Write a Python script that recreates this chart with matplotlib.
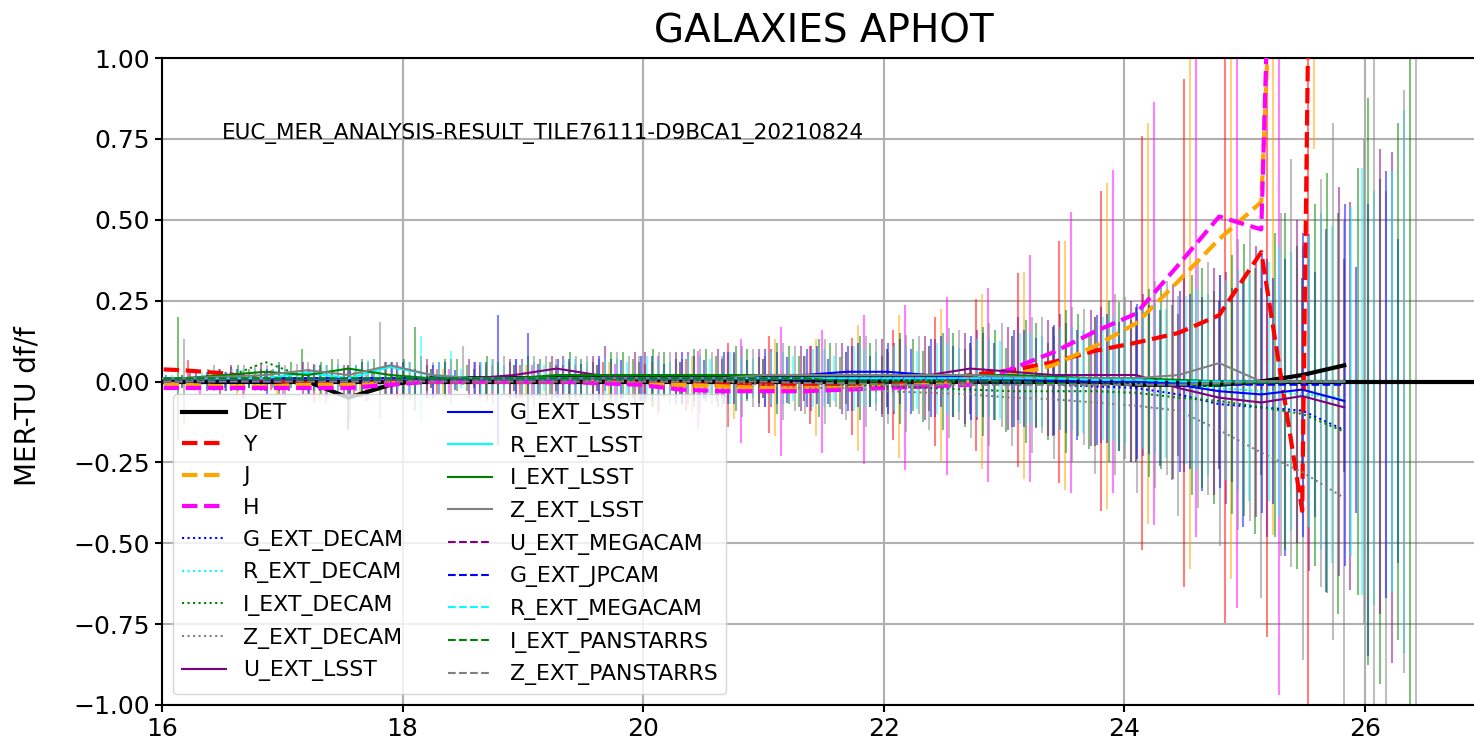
import numpy as np
import matplotlib
matplotlib.use("Agg")
import matplotlib.pyplot as plt

nan = np.nan

# magnitude bins (bin centres)
mag = [15.83, 16.17, 16.52, 16.86, 17.21, 17.55, 17.90, 18.24, 18.59, 18.93,
       19.28, 19.62, 19.97, 20.31, 20.66, 21.00, 21.34, 21.69, 22.03, 22.38,
       22.72, 23.07, 23.41, 23.76, 24.10, 24.45, 24.79, 25.14, 25.48, 25.83]

# median df/f and error per band
det_med = [0.00, 0.00, 0.00, 0.00, 0.00, -0.05, -0.01, 0.01, 0.01, 0.01,
           0.01, 0.01, 0.01, 0.01, 0.01, 0.01, 0.01, 0.01, 0.01, 0.01,
           0.01, 0.00, 0.00, 0.00, -0.01, -0.01, -0.01, 0.00, 0.02, 0.05]
det_err = [0.02, 0.02, 0.02, 0.03, 0.03, 0.10, 0.03, 0.03, 0.03, 0.04,
           0.04, 0.04, 0.05, 0.05, 0.06, 0.06, 0.07, 0.08, 0.09, 0.10,
           0.11, 0.14, 0.17, 0.20, 0.24, 0.22, 0.26, 0.29, 0.30, 0.33]

y_med = [0.04, 0.035, 0.025, 0.005, -0.005, -0.01, 0.00, 0.00, 0.00, 0.00,
         0.00, 0.00, -0.005, -0.01, -0.01, -0.01, -0.01, -0.015, -0.01, 0.00,
         0.02, 0.035, 0.06, 0.095, 0.12, 0.15, 0.205, 0.40, -0.40, 10.0]
y_err = [0.03, 0.03, 0.02, 0.03, 0.06, 0.04, 0.05, 0.04, 0.05, 0.05,
         0.05, 0.06, 0.06, 0.08, 0.13, 0.15, 0.12, 0.15, 0.17, 0.20,
         0.235, 0.30, 0.375, 0.495, 0.64, 0.785, 0.95, 1.19, 1.60, 5.0]

j_med = [0.00, -0.01, -0.015, -0.015, -0.01, -0.01, -0.005, 0.00, 0.00, 0.00,
         0.00, 0.00, -0.01, -0.01, -0.015, -0.02, -0.02, -0.02, -0.015, -0.01,
         0.00, 0.02, 0.05, 0.11, 0.18, 0.31, 0.44, 0.555, 3.6, nan]
j_err = [0.03, 0.02, 0.03, 0.03, 0.05, 0.04, 0.04, 0.04, 0.05, 0.05,
         0.06, 0.06, 0.07, 0.09, 0.10, 0.15, 0.15, 0.195, 0.22, 0.235,
         0.27, 0.32, 0.385, 0.505, 0.62, 0.89, 1.05, 1.03, 2.88, nan]

h_med = [-0.02, -0.02, -0.02, -0.02, -0.02, -0.02, -0.01, 0.00, 0.00, 0.00,
         0.00, -0.005, -0.01, -0.025, -0.03, -0.03, -0.03, -0.025, -0.02, -0.015,
         -0.01, 0.04, 0.09, 0.155, 0.21, 0.36, 0.51, 0.47, 4.9, nan]
h_err = [0.03, 0.02, 0.03, 0.02, 0.045, 0.04, 0.03, 0.04, 0.05, 0.05,
         0.05, 0.06, 0.09, 0.12, 0.16, 0.20, 0.19, 0.23, 0.255, 0.275,
         0.30, 0.35, 0.435, 0.50, 0.655, 0.84, 1.21, 1.44, 3.5, nan]

g_decam_med = [0.00, 0.00, 0.00, 0.00, 0.00, 0.00, 0.00, 0.005, 0.005, 0.005,
               0.005, 0.005, 0.005, 0.005, 0.005, 0.005, 0.00, 0.00, 0.00, 0.00,
               0.00, -0.005, -0.01, -0.015, -0.02, -0.04, -0.07, -0.08, -0.09, -0.15]
g_decam_err = [0.02, 0.03, 0.02, 0.03, 0.03, 0.03, 0.04, 0.03, 0.20, 0.05,
               0.05, 0.06, 0.05, 0.06, 0.06, 0.07, 0.07, 0.08, 0.10, 0.11,
               0.12, 0.14, 0.17, 0.20, 0.24, 0.30, 0.38, 0.46, 0.56, 0.70]

r_decam_med = [0.00, 0.00, 0.01, 0.01, 0.01, 0.00, 0.01, 0.01, 0.01, 0.01,
               0.01, 0.01, 0.01, 0.01, 0.01, 0.01, 0.01, 0.01, 0.005, 0.005,
               0.005, 0.00, 0.00, 0.00, -0.005, -0.01, -0.02, -0.03, -0.04, -0.05]
r_decam_err = [0.02, 0.02, 0.03, 0.02, 0.04, 0.03, 0.13, 0.03, 0.04, 0.04,
               0.05, 0.05, 0.05, 0.06, 0.06, 0.07, 0.07, 0.08, 0.09, 0.10,
               0.12, 0.14, 0.16, 0.19, 0.23, 0.28, 0.35, 0.43, 0.52, 0.64]

i_decam_med = [0.01, 0.01, 0.01, 0.06, 0.01, 0.01, 0.01, 0.01, 0.01, 0.01,
               0.01, 0.01, 0.01, 0.01, 0.005, 0.00, -0.005, -0.01, -0.015, -0.02,
               -0.025, -0.03, -0.03, -0.03, -0.035, -0.05, -0.06, -0.08, -0.10, -0.155]
i_decam_err = [0.19, 0.03, 0.03, 0.04, 0.03, 0.05, 0.04, 0.04, 0.05, 0.05,
               0.05, 0.06, 0.06, 0.07, 0.07, 0.08, 0.08, 0.09, 0.11, 0.12,
               0.13, 0.15, 0.18, 0.22, 0.27, 0.33, 0.41, 0.50, 0.62, 0.78]

z_decam_med = [0.00, 0.00, 0.01, 0.01, 0.01, 0.01, 0.01, 0.01, 0.01, 0.01,
               0.01, 0.01, 0.00, 0.00, 0.00, -0.01, -0.02, -0.02, -0.03, -0.035,
               -0.04, -0.05, -0.055, -0.065, -0.075, -0.09, -0.15, -0.22, -0.28, -0.36]
z_decam_err = [0.13, 0.03, 0.04, 0.05, 0.13, 0.05, 0.05, 0.05, 0.06, 0.06,
               0.06, 0.07, 0.07, 0.08, 0.08, 0.09, 0.10, 0.11, 0.12, 0.14,
               0.16, 0.19, 0.23, 0.28, 0.34, 0.42, 0.52, 0.64, 0.78, 0.95]

u_lsst_med = [0.01, 0.01, 0.01, 0.01, 0.01, 0.01, 0.01, 0.01, 0.01, 0.02,
              0.04, 0.02, 0.01, 0.01, 0.01, 0.01, 0.01, 0.01, 0.01, 0.02,
              0.04, 0.03, 0.02, 0.02, 0.02, -0.02, -0.05, -0.065, -0.045, -0.08]
u_lsst_err = [0.03, 0.04, 0.03, 0.04, 0.04, 0.05, 0.05, 0.05, 0.06, 0.06,
              0.07, 0.07, 0.08, 0.08, 0.09, 0.10, 0.10, 0.11, 0.12, 0.14,
              0.16, 0.18, 0.21, 0.25, 0.30, 0.36, 0.43, 0.52, 0.60, 0.79]

g_lsst_med = [0.01, 0.01, 0.01, 0.01, 0.01, 0.01, 0.01, 0.01, 0.01, 0.01,
              0.01, 0.01, 0.01, 0.01, 0.01, 0.02, 0.02, 0.03, 0.03, 0.02,
              0.01, 0.01, 0.01, 0.005, 0.00, -0.01, -0.03, -0.04, -0.025, -0.06]
g_lsst_err = [0.03, 0.03, 0.04, 0.04, 0.05, 0.05, 0.05, 0.05, 0.14, 0.06,
              0.06, 0.07, 0.07, 0.08, 0.08, 0.09, 0.10, 0.10, 0.11, 0.13,
              0.15, 0.17, 0.20, 0.23, 0.27, 0.30, 0.35, 0.38, 0.38, 0.50]

r_lsst_med = [0.01, 0.01, 0.01, 0.01, 0.027, 0.01, 0.045, 0.02, 0.01, 0.01,
              0.01, 0.01, 0.01, 0.01, 0.01, 0.01, 0.01, 0.01, 0.01, 0.01,
              0.01, 0.01, 0.01, 0.01, 0.005, 0.005, 0.00, 0.00, 0.00, 0.00]
r_lsst_err = [0.02, 0.03, 0.03, 0.04, 0.04, 0.05, 0.05, 0.05, 0.05, 0.06,
              0.06, 0.06, 0.07, 0.07, 0.08, 0.09, 0.09, 0.10, 0.11, 0.12,
              0.14, 0.16, 0.19, 0.23, 0.28, 0.34, 0.42, 0.52, 0.66, 0.84]

i_lsst_med = [0.01, 0.01, 0.02, 0.03, 0.02, 0.04, 0.02, 0.01, 0.01, 0.01,
              0.02, 0.02, 0.02, 0.02, 0.02, 0.02, 0.02, 0.02, 0.02, 0.02,
              0.02, 0.02, 0.015, 0.01, 0.01, 0.005, 0.00, -0.005, 0.00, 0.00]
i_lsst_err = [0.03, 0.03, 0.04, 0.04, 0.05, 0.13, 0.05, 0.05, 0.06, 0.06,
              0.07, 0.07, 0.08, 0.08, 0.09, 0.10, 0.10, 0.11, 0.13, 0.14,
              0.16, 0.19, 0.23, 0.28, 0.34, 0.42, 0.52, 0.65, 0.875, 1.10]

z_lsst_med = [0.01, 0.01, 0.015, 0.02, 0.035, 0.02, 0.05, 0.02, 0.01, 0.01,
              0.01, 0.01, 0.01, 0.01, 0.01, 0.02, 0.02, 0.02, 0.02, 0.02,
              0.02, 0.015, 0.01, 0.01, 0.01, 0.02, 0.057, 0.00, 0.00, 0.00]
z_lsst_err = [0.04, 0.04, 0.04, 0.05, 0.15, 0.06, 0.06, 0.06, 0.07, 0.07,
              0.07, 0.08, 0.08, 0.09, 0.10, 0.10, 0.11, 0.12, 0.14, 0.16,
              0.18, 0.21, 0.25, 0.30, 0.36, 0.45, 0.63, 0.80, 1.00, 1.20]

u_mega_med = [0.00, 0.01, 0.01, 0.00, 0.01, 0.01, 0.01, 0.01, 0.01, 0.01,
              0.01, 0.01, 0.01, 0.01, 0.01, 0.01, 0.01, 0.01, 0.01, 0.01,
              0.01, 0.01, 0.00, 0.00, 0.00, 0.00, 0.00, 0.00, 0.00, 0.00]
u_mega_err = [0.04, 0.04, 0.05, 0.05, 0.05, 0.06, 0.06, 0.06, 0.07, 0.07,
              0.08, 0.08, 0.09, 0.09, 0.10, 0.11, 0.12, 0.13, 0.14, 0.16,
              0.18, 0.21, 0.25, 0.30, 0.35, 0.42, 0.50, 0.60, 0.72, nan]

g_jpcam_med = [0.00, 0.00, 0.00, 0.00, 0.01, 0.00, 0.01, 0.01, 0.01, 0.01,
               0.01, 0.01, 0.01, 0.01, 0.01, 0.01, 0.01, 0.01, 0.01, 0.01,
               0.005, 0.005, 0.00, 0.00, 0.00, -0.005, -0.01, -0.01, -0.01, -0.01]
g_jpcam_err = [0.03, 0.04, 0.04, 0.04, 0.05, 0.05, 0.05, 0.06, 0.06, 0.07,
               0.07, 0.08, 0.08, 0.09, 0.09, 0.10, 0.11, 0.12, 0.13, 0.15,
               0.17, 0.20, 0.24, 0.28, 0.33, 0.40, 0.47, 0.56, 0.66, nan]

r_mega_med = [0.01, 0.01, 0.01, 0.01, 0.01, 0.01, 0.01, 0.01, 0.01, 0.01,
              0.01, 0.01, 0.01, 0.01, 0.01, 0.01, 0.01, 0.01, 0.01, 0.01,
              0.01, 0.01, 0.01, 0.005, 0.005, 0.00, 0.00, 0.00, 0.00, 0.00]
r_mega_err = [0.03, 0.03, 0.04, 0.04, 0.04, 0.05, 0.05, 0.05, 0.06, 0.06,
              0.07, 0.07, 0.08, 0.08, 0.09, 0.10, 0.10, 0.11, 0.12, 0.14,
              0.16, 0.19, 0.22, 0.26, 0.31, 0.37, 0.45, 0.54, 0.65, nan]

i_pan_med = [0.01, 0.01, 0.01, 0.01, 0.01, 0.01, 0.01, 0.01, 0.01, 0.01,
             0.01, 0.01, 0.01, 0.01, 0.01, 0.01, 0.01, 0.00, 0.00, 0.00,
             0.00, 0.00, -0.005, -0.01, -0.01, -0.01, -0.01, 0.00, 0.00, 0.00]
i_pan_err = [0.04, 0.05, 0.05, 0.06, 0.06, 0.06, 0.07, 0.07, 0.08, 0.08,
             0.09, 0.09, 0.10, 0.11, 0.12, 0.13, 0.14, 0.15, 0.17, 0.19,
             0.22, 0.25, 0.29, 0.34, 0.40, 0.47, 0.56, 0.66, 0.80, nan]

z_pan_med = [0.00, 0.00, 0.00, 0.00, 0.00, 0.00, 0.00, 0.00, 0.00, 0.00,
             0.00, 0.00, 0.00, 0.00, 0.00, 0.00, -0.005, -0.005, -0.01, -0.01,
             -0.01, -0.01, -0.01, -0.01, -0.01, -0.01, -0.005, 0.00, 0.00, 0.00]
z_pan_err = [0.05, 0.05, 0.05, 0.06, 0.06, 0.07, 0.07, 0.08, 0.08, 0.09,
             0.09, 0.10, 0.11, 0.12, 0.13, 0.14, 0.15, 0.17, 0.19, 0.21,
             0.24, 0.28, 0.32, 0.38, 0.45, 0.53, 0.63, 0.75, 0.90, nan]

# name, median, error, colour, linestyle, linewidth
bands = [
    ("DET", det_med, det_err, "black", "-", 3),
    ("Y", y_med, y_err, "red", "--", 3),
    ("J", j_med, j_err, "orange", "--", 3),
    ("H", h_med, h_err, "magenta", "--", 3),
    ("G_EXT_DECAM", g_decam_med, g_decam_err, "blue", ":", 1.5),
    ("R_EXT_DECAM", r_decam_med, r_decam_err, "cyan", ":", 1.5),
    ("I_EXT_DECAM", i_decam_med, i_decam_err, "green", ":", 1.5),
    ("Z_EXT_DECAM", z_decam_med, z_decam_err, "grey", ":", 1.5),
    ("U_EXT_LSST", u_lsst_med, u_lsst_err, "purple", "-", 1.5),
    ("G_EXT_LSST", g_lsst_med, g_lsst_err, "blue", "-", 1.5),
    ("R_EXT_LSST", r_lsst_med, r_lsst_err, "cyan", "-", 1.5),
    ("I_EXT_LSST", i_lsst_med, i_lsst_err, "green", "-", 1.5),
    ("Z_EXT_LSST", z_lsst_med, z_lsst_err, "grey", "-", 1.5),
    ("U_EXT_MEGACAM", u_mega_med, u_mega_err, "purple", "--", 1.5),
    ("G_EXT_JPCAM", g_jpcam_med, g_jpcam_err, "blue", "--", 1.5),
    ("R_EXT_MEGACAM", r_mega_med, r_mega_err, "cyan", "--", 1.5),
    ("I_EXT_PANSTARRS", i_pan_med, i_pan_err, "green", "--", 1.5),
    ("Z_EXT_PANSTARRS", z_pan_med, z_pan_err, "grey", "--", 1.5),
]

fig = plt.figure(figsize=(14.74, 7.51), dpi=100)
ax = fig.add_axes([162/1474, 46/751, 1323/1474, 647/751])

x = np.array(mag)
# error bars shifted a little per band so they don't sit on top of each other
for i, (name, med, err, col, ls, lw) in enumerate(bands):
    ax.errorbar(x + i*0.05, med, yerr=err, fmt="none", ecolor=col,
                alpha=0.5, elinewidth=1.5, zorder=2)

for i, (name, med, err, col, ls, lw) in enumerate(bands):
    ax.plot(x, med, color=col, linestyle=ls, linewidth=lw, label=name, zorder=3)

ax.axhline(0, color="black", linewidth=3, zorder=2.5)

ax.set_xlim(16, 27)
ax.set_ylim(-1, 1)
ax.set_xticks([16, 18, 20, 22, 24, 26])
ax.set_yticks([-1.0, -0.75, -0.5, -0.25, 0.0, 0.25, 0.5, 0.75, 1.0])
ax.tick_params(labelsize=18, width=1.5, length=5)
ax.grid(True, color="#b0b0b0", linewidth=1.5)
for s in ax.spines.values():
    s.set_linewidth(1.5)

ax.text(16.5, 0.75, "EUC_MER_ANALYSIS-RESULT_TILE76111-D9BCA1_20210824",
        fontsize=15.5)
ax.set_title("GALAXIES APHOT", fontsize=28, pad=11)
ax.set_ylabel("MER-TU df/f", fontsize=20)
ax.yaxis.set_label_coords(-0.091, 0.462)
ax.legend(loc="lower left", ncol=2, fontsize=15.8, labelspacing=0.53)

fig.savefig("out.png", dpi=100)
